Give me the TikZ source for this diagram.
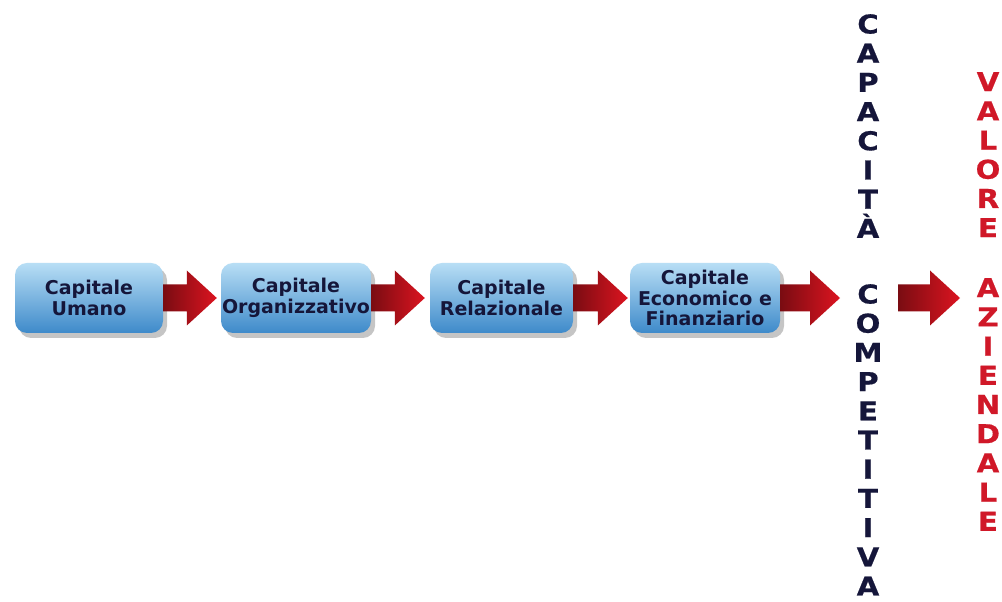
\documentclass[tikz,border=0pt]{standalone}
\usepackage{fontspec}
\setmainfont{DejaVu Sans}
\newfontfamily\widefont[FakeStretch=1.12,FakeBold=0.6]{DejaVu Sans Bold}
\usetikzlibrary{shadows,calc}
\definecolor{navy}{HTML}{15163A}
\definecolor{vred}{HTML}{D01828}
\definecolor{boxtop}{HTML}{B8DEF5}
\definecolor{boxbot}{HTML}{3E8ACA}
\definecolor{arrdark}{HTML}{7A0C12}
\definecolor{arrred}{HTML}{DC1420}
\tikzset{
  capbox/.style={rounded corners=12pt, minimum width=#1, minimum height=70pt,
    inner sep=1pt, align=center, font=\bfseries\fontsize{19}{20.5}\selectfont,
    text=navy, top color=boxtop, bottom color=boxbot,
    drop shadow={shadow xshift=4pt, shadow yshift=-5pt, opacity=0.45}},
  column/.style={inner sep=0pt, align=center, anchor=north,
    font=\widefont\fontsize{26}{29.2}\selectfont},
  fatarr/.style={left color=arrdark, right color=arrred}
}
\newcommand\fatarrow[3]{%
  \shade[fatarr] let \p1=(#1), \p2=(#2) in
  (\x1,\y1+13.5pt) -- (\x2-#3-30pt,\y1+13.5pt) -- (\x2-#3-30pt,\y1+27.5pt)
  -- (\x2-#3,\y1) -- (\x2-#3-30pt,\y1-27.5pt) -- (\x2-#3-30pt,\y1-13.5pt)
  -- (\x1,\y1-13.5pt) -- cycle;}
\begin{document}
\begin{tikzpicture}[x=1pt,y=1pt]
\fill[white] (0,0) rectangle (1002,602);
\useasboundingbox (0,0) rectangle (1002,602);
% boxes
\node[capbox=148pt] (b1) at (89,304) {Capitale\\Umano};
\node[capbox=150pt] (b2) at (296,304) {Capitale\\Organizzativo};
\node[capbox=143pt] (b3) at (501.5,304) {Capitale\\Relazionale};
\node[capbox=150pt] (b4) at (705,304) {Capitale\\Economico e\\Finanziario};
% columns
\node[column, text=navy] (cap1) at (868,588) {C\\A\\P\\A\\C\\I\\T\\À};
\node[column, text=navy] (cap2) at (868,318) {C\\O\\M\\P\\E\\T\\I\\T\\I\\V\\A};
\node[column, text=vred] (val) at (988,530) {V\\A\\L\\O\\R\\E};
\node[column, text=vred] (az) at (988,324) {A\\Z\\I\\E\\N\\D\\A\\L\\E};
% arrow end points
\coordinate (t4) at (840,304);
\coordinate (s5) at (898,304);
\coordinate (t5) at (960,304);
% arrows
\fatarrow{b1.east}{b2.west}{4pt}
\fatarrow{b2.east}{b3.west}{5pt}
\fatarrow{b3.east}{b4.west}{2pt}
\fatarrow{b4.east}{t4}{0pt}
\fatarrow{s5}{t5}{0pt}
\end{tikzpicture}
\end{document}
